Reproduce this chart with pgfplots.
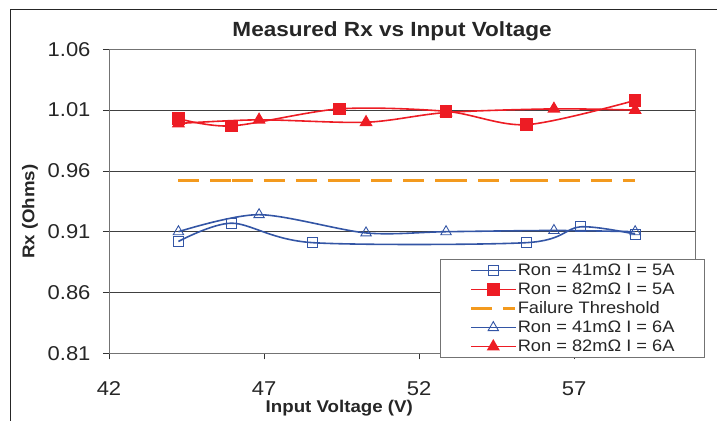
\documentclass[border=0pt]{standalone}
\usepackage{fontspec}
\setmainfont{Liberation Sans}[FakeStretch=1.1]
\usepackage{pgfplots}
\pgfplotsset{compat=1.18}
\definecolor{cblue}{RGB}{51,85,165}
\definecolor{cred}{RGB}{237,28,36}
\definecolor{corange}{RGB}{243,154,30}
\begin{document}
\begin{tikzpicture}
\begin{axis}[
  at={(0,0)}, anchor=south west,
  scale only axis, width=586bp, height=304bp,
  xmin=42, xmax=60.9, ymin=0.81, ymax=1.06,
  xtick={42,47,52,57},
  ytick={0.81,0.86,0.91,0.96,1.01,1.06},
  /pgf/number format/assume math mode=true,
  yticklabel style={/pgf/number format/fixed, /pgf/number format/fixed zerofill, /pgf/number format/precision=2, xshift=-9bp},
  xticklabel style={yshift=-19bp},
  ymajorgrids, grid style={black!75, line width=0.8pt},
  axis line style={black!55, line width=0.9pt},
  tick align=outside, tick pos=left, major tick length=6bp,
  tick style={black!80, line width=0.8pt},
  ticklabel style={font=\fontsize{20bp}{23bp}\selectfont, text=black!85},
  title={\textbf{Measured Rx vs Input Voltage}},
  title style={at={(axis description cs:0.483,1.04)}, anchor=center, font=\fontsize{20.5bp}{24bp}\selectfont, text=black!85},
  xlabel={\textbf{Input Voltage (V)}},
  xlabel style={at={(axis description cs:0.393,-0.18)}, anchor=center, font=\fontsize{17bp}{20bp}\selectfont, text=black!85},
  ylabel={\textbf{Rx (Ohms)}},
  ylabel style={at={(axis description cs:-0.1348,0.466)}, anchor=center, font=\fontsize{17bp}{20bp}\selectfont, text=black!85},
  unbounded coords=jump,
  legend cell align=left,
  legend style={at={(axis description cs:1.017,-0.0155)}, anchor=south east,
    draw=black!55, line width=0.8pt, inner xsep=29bp, inner ysep=2bp, row sep=1bp,
    nodes={inner sep=1bp, text height=12.5bp, text depth=3.5bp},
    font=\fontsize{16.6bp}{19bp}\selectfont, text=black!85},
  legend image code/.code={\draw[mark repeat=2,mark phase=2] plot coordinates {(0bp,0bp) (22bp,0bp) (44bp,0bp)};},
]
\addplot[cblue, line width=1.6pt, smooth, tension=0.5, mark=square, mark size=5bp, mark options={solid, fill=white, line width=0.9pt}]
  coordinates {(44.24,0.902) (45.96,0.917) (48.56,0.901) (55.47,0.901) (57.2,0.914) (58.97,0.908)};
\addlegendentry{Ron = 41mΩ I = 5A}
\addplot[cred, line width=1.6pt, smooth, tension=0.5, mark=square*, mark size=5.5bp, mark options={solid}]
  coordinates {(44.24,1.003) (45.96,0.997) (49.43,1.011) (52.87,1.009) (55.47,0.998) (58.97,1.018)};
\addlegendentry{Ron = 82mΩ I = 5A}
\addplot[corange, line width=3pt, dash pattern=on 21bp off 11bp]
  coordinates {(44.24,0.9525) (45.96,0.9525) (45.96,nan) (45.96,0.9525) (49.43,0.9525) (49.43,nan)
   (49.43,0.9525) (52.87,0.9525) (52.87,nan) (52.87,0.9525) (55.47,0.9525) (55.47,nan)
   (55.47,0.9525) (58.97,0.9525)};
\addlegendentry{Failure Threshold}
\addplot[cblue, line width=1.6pt, smooth, tension=0.5, mark=triangle, mark size=6bp, mark options={solid, fill=white, line width=0.9pt}]
  coordinates {(44.24,0.910) (46.84,0.924) (50.29,0.909) (52.87,0.910) (56.35,0.911) (58.97,0.910)};
\addlegendentry{Ron = 41mΩ I = 6A}
\addplot[cred, line width=1.6pt, smooth, tension=0.5, mark=triangle*, mark size=6bp, mark options={solid}]
  coordinates {(44.24,0.999) (46.84,1.002) (50.29,1.000) (52.87,1.008) (56.35,1.011) (58.97,1.010)};
\addlegendentry{Ron = 82mΩ I = 6A}
\end{axis}
\draw[black!85, line width=1.4pt] (-98.3bp,-80bp) -- (-98.3bp,344bp) -- (620bp,344bp);
\pgfresetboundingbox
\useasboundingbox (-109bp,-67.7bp) rectangle (608bp,353.3bp);
\end{tikzpicture}
\end{document}
